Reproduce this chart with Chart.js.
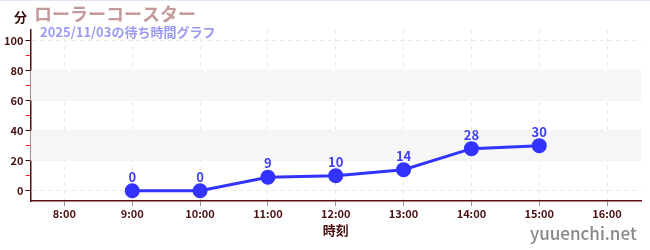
<!DOCTYPE html>
<html>
<head>
<meta charset="utf-8">
<script src="https://cdn.jsdelivr.net/npm/chart.js@4/dist/chart.umd.min.js"></script>
<style>
  html, body { margin: 0; padding: 0; background: #fff; }
  #wrap { width: 650px; height: 250px; position: relative; border-top: 1px solid #e4e4f8; box-sizing: border-box; }
</style>
</head>
<body>
<div id="wrap"><canvas id="grafico"></canvas></div>
<script>
// datos
var horas = ["8:00", "9:00", "10:00", "11:00", "12:00", "13:00", "14:00", "15:00", "16:00"];
var espera = [null, 0, 0, 9, 10, 14, 28, 30, null];
var marcasY = [0, 10, 20, 30, 40, 50, 60, 70, 80, 90, 100];
var bandas = [[20, 40], [60, 80]];

var FUENTE = "'Noto Sans CJK JP', 'Noto Sans', sans-serif";

// bandas grises del fondo
var pluginBandas = {
    id: "bandas",
    beforeDatasetsDraw: function (chart) {
        var ctx = chart.ctx, a = chart.chartArea, y = chart.scales.y;
        ctx.save();
        ctx.fillStyle = "#f6f6f6";
        bandas.forEach(function (b) {
            var y1 = y.getPixelForValue(b[1]), y0 = y.getPixelForValue(b[0]);
            ctx.fillRect(a.left, y1, a.right - a.left, y0 - y1);
        });
        ctx.restore();
    }
};

// textos: titulo, subtitulo, unidad, marca
var pluginTextos = {
    id: "textos",
    afterDraw: function (chart) {
        var ctx = chart.ctx;
        ctx.save();
        ctx.textBaseline = "middle";
        ctx.textAlign = "left";
        ctx.fillStyle = "#3a0a0a";
        ctx.font = "bold 13px " + FUENTE;
        ctx.fillText("分", 14, 16);
        ctx.fillStyle = "#c49a9a";
        ctx.font = "bold 18px " + FUENTE;
        ctx.fillText("ローラーコースター", 34, 13);
        ctx.fillStyle = "#9a9af2";
        ctx.font = "bold 13px " + FUENTE;
        ctx.fillText("2025/11/03の待ち時間グラフ", 40, 31);
        ctx.fillStyle = "#888888";
        ctx.font = "500 17px " + FUENTE;
        ctx.fillText("yuuenchi.net", 530, 233);
        // etiquetas de valores
        var meta = chart.getDatasetMeta(0);
        ctx.textAlign = "center";
        ctx.fillStyle = "#4040ee";
        ctx.font = "bold 13px " + FUENTE;
        meta.data.forEach(function (p, i) {
            if (espera[i] === null) return;
            ctx.fillText(String(espera[i]), p.x, p.y - 14);
        });
        ctx.restore();
    }
};

function cargaGrafico() {
    new Chart(document.getElementById("grafico"), {
        type: "line",
        data: {
            labels: horas,
            datasets: [{
                data: espera,
                borderColor: "#3333ff",
                backgroundColor: "#3333ff",
                borderWidth: 3,
                pointRadius: 6,
                pointHoverRadius: 6,
                spanGaps: false
            }]
        },
        options: {
            responsive: false,
            animation: false,
            layout: { padding: { top: 29, right: 9, left: 2, bottom: 8 } },
            plugins: { legend: { display: false }, tooltip: { enabled: false } },
            scales: {
                x: {
                    offset: true,
                    border: { color: "#5a1010", width: 1.5, dash: [4, 4] },
                    grid: {
                        color: "#e8e8e8",
                        tickColor: "#999999",
                        tickLength: 5,
                        offset: false
                    },
                    ticks: { color: "#4a1010", font: { family: FUENTE, size: 11, weight: "bold" }, padding: 1 },
                    title: { display: true, text: "時刻", color: "#4a1010", font: { family: FUENTE, size: 13, weight: "bold" }, padding: { top: 1 } }
                },
                y: {
                    min: -7,
                    max: 107,
                    border: { color: "#5a1010", width: 1.5, dash: [4, 4] },
                    grid: {
                        color: function (c) { return c.tick && c.tick.value % 20 === 0 ? "#e8e8e8" : "rgba(0,0,0,0)"; },
                        tickColor: function (c) { return c.tick && c.tick.value % 20 === 0 ? "#3a0a0a" : "#ff2020"; },
                        tickLength: 5
                    },
                    afterBuildTicks: function (s) {
                        s.ticks = marcasY.map(function (v) { return { value: v }; });
                    },
                    ticks: {
                        color: "#4a1010",
                        font: { family: FUENTE, size: 11, weight: "bold" },
                        padding: 2,
                        callback: function (v) { return v % 20 === 0 ? v : ""; }
                    }
                }
            }
        },
        plugins: [pluginBandas, pluginTextos]
    });
}

var c = document.getElementById("grafico");
c.width = 650; c.height = 249;
cargaGrafico();
</script>
</body>
</html>
